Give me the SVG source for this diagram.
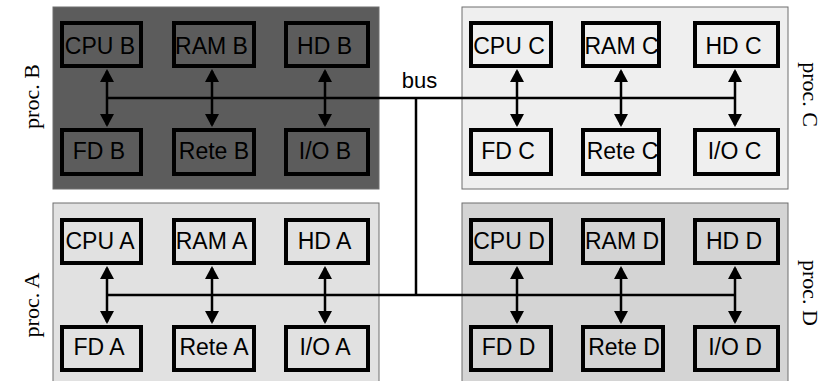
<svg xmlns="http://www.w3.org/2000/svg" width="827" height="381" viewBox="0 0 827 381">
  <defs>
    <style>
      .panel { stroke: #6e6e6e; stroke-width: 1; }
      .node rect { fill: none; stroke: #000; stroke-width: 4; }
      .node text { font-family: "Liberation Sans", Arial, sans-serif; font-size: 23px; fill: #000; text-anchor: middle; }
      .proc { font-family: "Liberation Serif", "Times New Roman", serif; font-size: 22px; fill: #000; text-anchor: middle; }
      .bus { font-family: "Liberation Sans", Arial, sans-serif; font-size: 22px; fill: #000; text-anchor: middle; }
      .wire { stroke: #000; stroke-width: 2.5; fill: none; }
      .link { stroke: #000; stroke-width: 2.5; fill: none; marker-start: url(#head); marker-end: url(#head); }
    </style>
    <marker id="head" viewBox="0 -7 13 14" refX="11" refY="0" markerWidth="13" markerHeight="14" markerUnits="userSpaceOnUse" orient="auto-start-reverse">
      <path d="M0,-7 L13,0 L0,7 Z" fill="#000"/>
    </marker>
  </defs>

  <!-- processor enclosures -->
  <rect id="panel-B" class="panel" x="53" y="7" width="326" height="182" fill="#5c5c5c"/>
  <rect id="panel-C" class="panel" x="462" y="7" width="326" height="182" fill="#efefef"/>
  <rect id="panel-A" class="panel" x="53" y="203" width="326" height="190" fill="#e1e1e1"/>
  <rect id="panel-D" class="panel" x="462" y="203" width="326" height="190" fill="#d4d4d4"/>

  <!-- processor labels -->
  <text class="proc" transform="translate(38.5,96.5) rotate(-90)">proc. B</text>
  <text class="proc" transform="translate(38.5,305) rotate(-90)">proc. A</text>
  <text class="proc" transform="translate(803,94.5) rotate(90)">proc. C</text>
  <text class="proc" transform="translate(803,293) rotate(90)">proc. D</text>

  <!-- connectors: shared bus and device links -->
  <g id="connectors">
    <polyline class="wire" points="107,98 735,98"/>
    <polyline class="wire" points="107,295 735,295"/>
    <polyline class="wire" points="416,98 416,295"/>
    <text class="bus" x="419.5" y="88">bus</text>

    <line class="link" x1="107" y1="71" x2="107" y2="125"/>
    <line class="link" x1="212" y1="71" x2="212" y2="125"/>
    <line class="link" x1="325" y1="71" x2="325" y2="125"/>
    <line class="link" x1="517" y1="71" x2="517" y2="125"/>
    <line class="link" x1="621" y1="71" x2="621" y2="125"/>
    <line class="link" x1="735" y1="71" x2="735" y2="125"/>

    <line class="link" x1="107" y1="268" x2="107" y2="322"/>
    <line class="link" x1="212" y1="268" x2="212" y2="322"/>
    <line class="link" x1="325" y1="268" x2="325" y2="322"/>
    <line class="link" x1="517" y1="268" x2="517" y2="322"/>
    <line class="link" x1="621" y1="268" x2="621" y2="322"/>
    <line class="link" x1="735" y1="268" x2="735" y2="322"/>
  </g>

  <!-- processor B -->
  <g id="cpu-b" class="node"><rect x="62" y="23" width="79" height="43"/><text x="100" y="53.5">CPU B</text></g>
  <g id="ram-b" class="node"><rect x="174" y="23" width="80" height="43"/><text x="211.5" y="53.5">RAM B</text></g>
  <g id="hd-b" class="node"><rect x="286" y="23" width="82" height="43"/><text x="324.5" y="53.5">HD B</text></g>
  <g id="fd-b" class="node"><rect x="62" y="130" width="79" height="44"/><text x="99" y="158.5">FD B</text></g>
  <g id="rete-b" class="node"><rect x="174" y="130" width="80" height="44"/><text x="214" y="158.5">Rete B</text></g>
  <g id="io-b" class="node"><rect x="286" y="130" width="82" height="44"/><text x="325" y="158.5">I/O B</text></g>

  <!-- processor C -->
  <g id="cpu-c" class="node"><rect x="471" y="23" width="80" height="43"/><text x="509" y="53.5">CPU C</text></g>
  <g id="ram-c" class="node"><rect x="583" y="23" width="76" height="43"/><text x="621.5" y="53.5">RAM C</text></g>
  <g id="hd-c" class="node"><rect x="695" y="23" width="83" height="43"/><text x="733.5" y="53.5">HD C</text></g>
  <g id="fd-c" class="node"><rect x="471" y="130" width="80" height="44"/><text x="508" y="158.5">FD C</text></g>
  <g id="rete-c" class="node"><rect x="583" y="130" width="76" height="44"/><text x="622.5" y="158.5">Rete C</text></g>
  <g id="io-c" class="node"><rect x="695" y="130" width="83" height="44"/><text x="734.5" y="158.5">I/O C</text></g>

  <!-- processor A -->
  <g id="cpu-a" class="node"><rect x="62" y="220" width="79" height="43"/><text x="100" y="249">CPU A</text></g>
  <g id="ram-a" class="node"><rect x="174" y="220" width="80" height="43"/><text x="211.5" y="249">RAM A</text></g>
  <g id="hd-a" class="node"><rect x="286" y="220" width="82" height="43"/><text x="324.5" y="249">HD A</text></g>
  <g id="fd-a" class="node"><rect x="62" y="327" width="79" height="43"/><text x="99" y="355">FD A</text></g>
  <g id="rete-a" class="node"><rect x="174" y="327" width="80" height="43"/><text x="214" y="355">Rete A</text></g>
  <g id="io-a" class="node"><rect x="286" y="327" width="82" height="43"/><text x="325" y="355">I/O A</text></g>

  <!-- processor D -->
  <g id="cpu-d" class="node"><rect x="471" y="220" width="80" height="43"/><text x="509" y="249">CPU D</text></g>
  <g id="ram-d" class="node"><rect x="583" y="220" width="80" height="43"/><text x="622" y="249">RAM D</text></g>
  <g id="hd-d" class="node"><rect x="695" y="220" width="83" height="43"/><text x="734" y="249">HD D</text></g>
  <g id="fd-d" class="node"><rect x="471" y="327" width="80" height="43"/><text x="508.5" y="355">FD D</text></g>
  <g id="rete-d" class="node"><rect x="583" y="327" width="80" height="43"/><text x="624" y="355">Rete D</text></g>
  <g id="io-d" class="node"><rect x="695" y="327" width="83" height="43"/><text x="735" y="355">I/O D</text></g>
</svg>
